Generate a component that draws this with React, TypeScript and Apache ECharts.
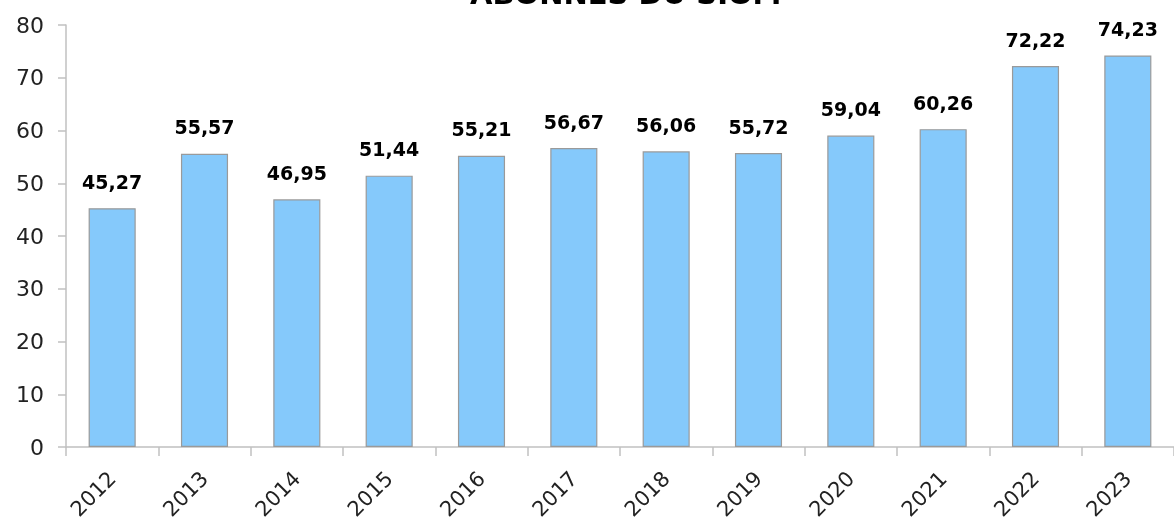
import React, { useEffect, useRef } from "react";
import * as echarts from "echarts";

const years = ["2012", "2013", "2014", "2015", "2016", "2017", "2018", "2019", "2020", "2021", "2022", "2023"];
const values = [45.27, 55.57, 46.95, 51.44, 55.21, 56.67, 56.06, 55.72, 59.04, 60.26, 72.22, 74.23];
const titleText = "ABONNÉS DU SIOM";

const FONT = "'DejaVu Sans', sans-serif";

export default function App() {
  const ref = useRef<HTMLDivElement>(null);
  useEffect(() => {
    const chart = echarts.init(ref.current!, null, { renderer: "svg" });
    chart.setOption({
      animation: false,
      graphic: [
        {
          type: "text",
          left: 470,
          top: -21,
          style: { text: titleText, font: `bold 29px ${FONT}`, fill: "#000" },
        },
      ],
      grid: { left: 66, right: -12, top: 25, bottom: 77 },
      xAxis: {
        type: "category",
        data: years,
        axisLine: { lineStyle: { color: "#c0c0c0", width: 1.5 } },
        axisTick: { show: true, length: 9, lineStyle: { color: "#c0c0c0", width: 1.5 } },
        axisLabel: { rotate: 45, color: "#222", fontSize: 21, fontFamily: FONT, margin: 28 },
      },
      yAxis: {
        type: "value",
        min: 0,
        max: 80,
        interval: 10,
        axisLine: { show: true, lineStyle: { color: "#c0c0c0", width: 1.5 } },
        axisTick: { show: true, length: 8, lineStyle: { color: "#c0c0c0", width: 1.5 } },
        splitLine: { show: false },
        axisLabel: { color: "#222", fontSize: 22, fontFamily: FONT, margin: 22 },
      },
      series: [
        {
          type: "bar",
          data: values,
          barWidth: "51%",
          itemStyle: { color: "#85c9fb", borderColor: "#9a9a9a", borderWidth: 1.2 },
          label: {
            show: true,
            position: "top",
            distance: 17,
            color: "#000",
            fontSize: 19,
            fontWeight: "bold",
            fontFamily: FONT,
            formatter: (p: any) => p.value.toFixed(2).replace(".", ","),
          },
        },
      ],
    });
    return () => chart.dispose();
  }, []);
  return <div ref={ref} style={{ position: "fixed", left: 0, top: 0, width: 1174, height: 524 }} />;
}
